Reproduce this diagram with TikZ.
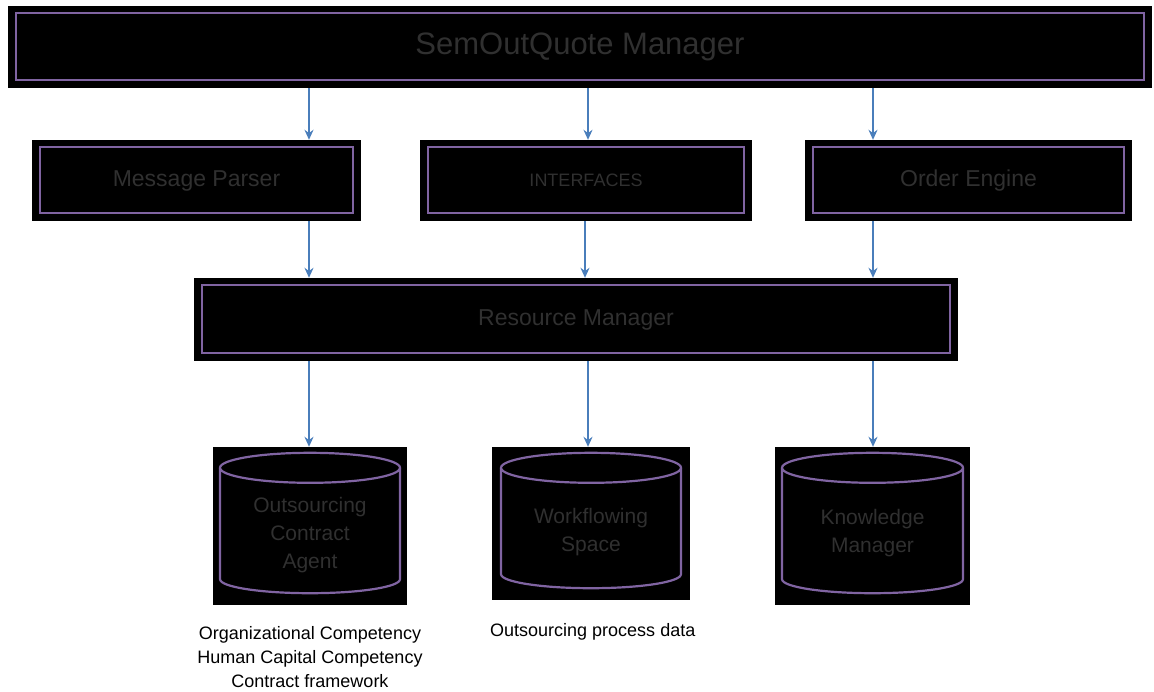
\documentclass[tikz,border=0pt]{standalone}
\usepackage{fontspec}
\setmainfont{Liberation Sans}
\usetikzlibrary{arrows.meta,calc}
\definecolor{pur}{HTML}{8064A2}
\definecolor{arrblue}{HTML}{4A7EBB}
\definecolor{dimtext}{HTML}{303030}
\tikzset{
  blk/.style={fill=black, draw=none, inner sep=0pt, text=dimtext},
  frame/.style={draw=pur, line width=2.2pt},
  arr/.style={draw=arrblue, line width=1.5pt, -{Stealth[length=10pt,width=9pt]}},
  cyltext/.style={text=dimtext, align=center, font=\fontsize{21}{28}\selectfont},
  note/.style={text=black, align=center, font=\fontsize{18}{24}\selectfont, inner sep=0pt}
}
\newcommand{\insetframe}[1]{%
  \draw[frame] ([xshift=8pt,yshift=-7pt]#1.north west) rectangle ([xshift=-8pt,yshift=8pt]#1.south east);}
\newcommand{\mycyl}[2]{%
  \draw[frame] ($(#1.north)+(0pt,-21pt)$) ellipse [x radius=#2, y radius=15pt];
  \draw[frame] ($(#1.north)+(-#2,-21pt)$) -- ($(#1.south)+(-#2,26pt)$)
    arc[start angle=180, end angle=360, x radius=#2, y radius=14pt]
    -- ($(#1.north)+(#2,-21pt)$);}
\begin{document}
\begin{tikzpicture}[x=1pt,y=-1pt]
\useasboundingbox (0,0) rectangle (1154,691);
% top manager
\node[blk, minimum width=1144pt, minimum height=82pt, font=\fontsize{31}{34}\selectfont] (top) at (580,47) {SemOutQuote Manager};
\insetframe{top}
% second row
\node[blk, minimum width=329pt, minimum height=81pt, font=\fontsize{23}{26}\selectfont] (mp) at (196.5,180.5) {Message Parser};
\insetframe{mp}
\node[blk, minimum width=332pt, minimum height=81pt, font=\fontsize{18}{24}\selectfont] (ia) at (586,180.5) {INTERFACES};
\insetframe{ia}
\node[blk, minimum width=327pt, minimum height=81pt, font=\fontsize{23}{26}\selectfont] (oe) at (968.5,180.5) {Order Engine};
\insetframe{oe}
% resource manager
\node[blk, minimum width=764pt, minimum height=83pt, font=\fontsize{23}{26}\selectfont] (rm) at (576,319.5) {Resource Manager};
\insetframe{rm}
% cylinders
\node[blk, minimum width=194pt, minimum height=158pt] (c1) at (310,526) {};
\mycyl{c1}{90pt}
\node[cyltext] (c1t) at ($(c1)+(0pt,-9pt)$) {Outsourcing\\Contract\\Agent};
\node[blk, minimum width=198pt, minimum height=153pt] (c2) at (591,523.5) {};
\mycyl{c2}{90pt}
\node[cyltext] (c2t) at ($(c2)+(0pt,-8.5pt)$) {Workflowing\\Space};
\node[blk, minimum width=195pt, minimum height=158pt] (c3) at (872.5,526) {};
\mycyl{c3}{90.5pt}
\node[cyltext] (c3t) at ($(c3)+(0pt,-7.5pt)$) {Knowledge\\Manager};
% notes
\node[note] (n1) at (310,657) {Organizational Competency\\Human Capital Competency\\Contract framework};
\node[note, anchor=west] (n2) at (490,632) {Outsourcing process data};
% arrow x positions
\coordinate (xa) at (309,0);
\coordinate (xb) at (588,0);
\coordinate (xc) at (873,0);
\coordinate (xd) at (585,0);
\draw[arr] (top.south -| xa) -- (mp.north -| xa);
\draw[arr] (top.south -| xb) -- (ia.north -| xb);
\draw[arr] (top.south -| xc) -- (oe.north -| xc);
\draw[arr] (mp.south -| xa) -- (rm.north -| xa);
\draw[arr] (ia.south -| xd) -- (rm.north -| xd);
\draw[arr] (oe.south -| xc) -- (rm.north -| xc);
\draw[arr] (rm.south -| xa) -- (c1.north -| xa);
\draw[arr] (rm.south -| xb) -- (c2.north -| xb);
\draw[arr] (rm.south -| xc) -- (c3.north -| xc);
\end{tikzpicture}
\end{document}
